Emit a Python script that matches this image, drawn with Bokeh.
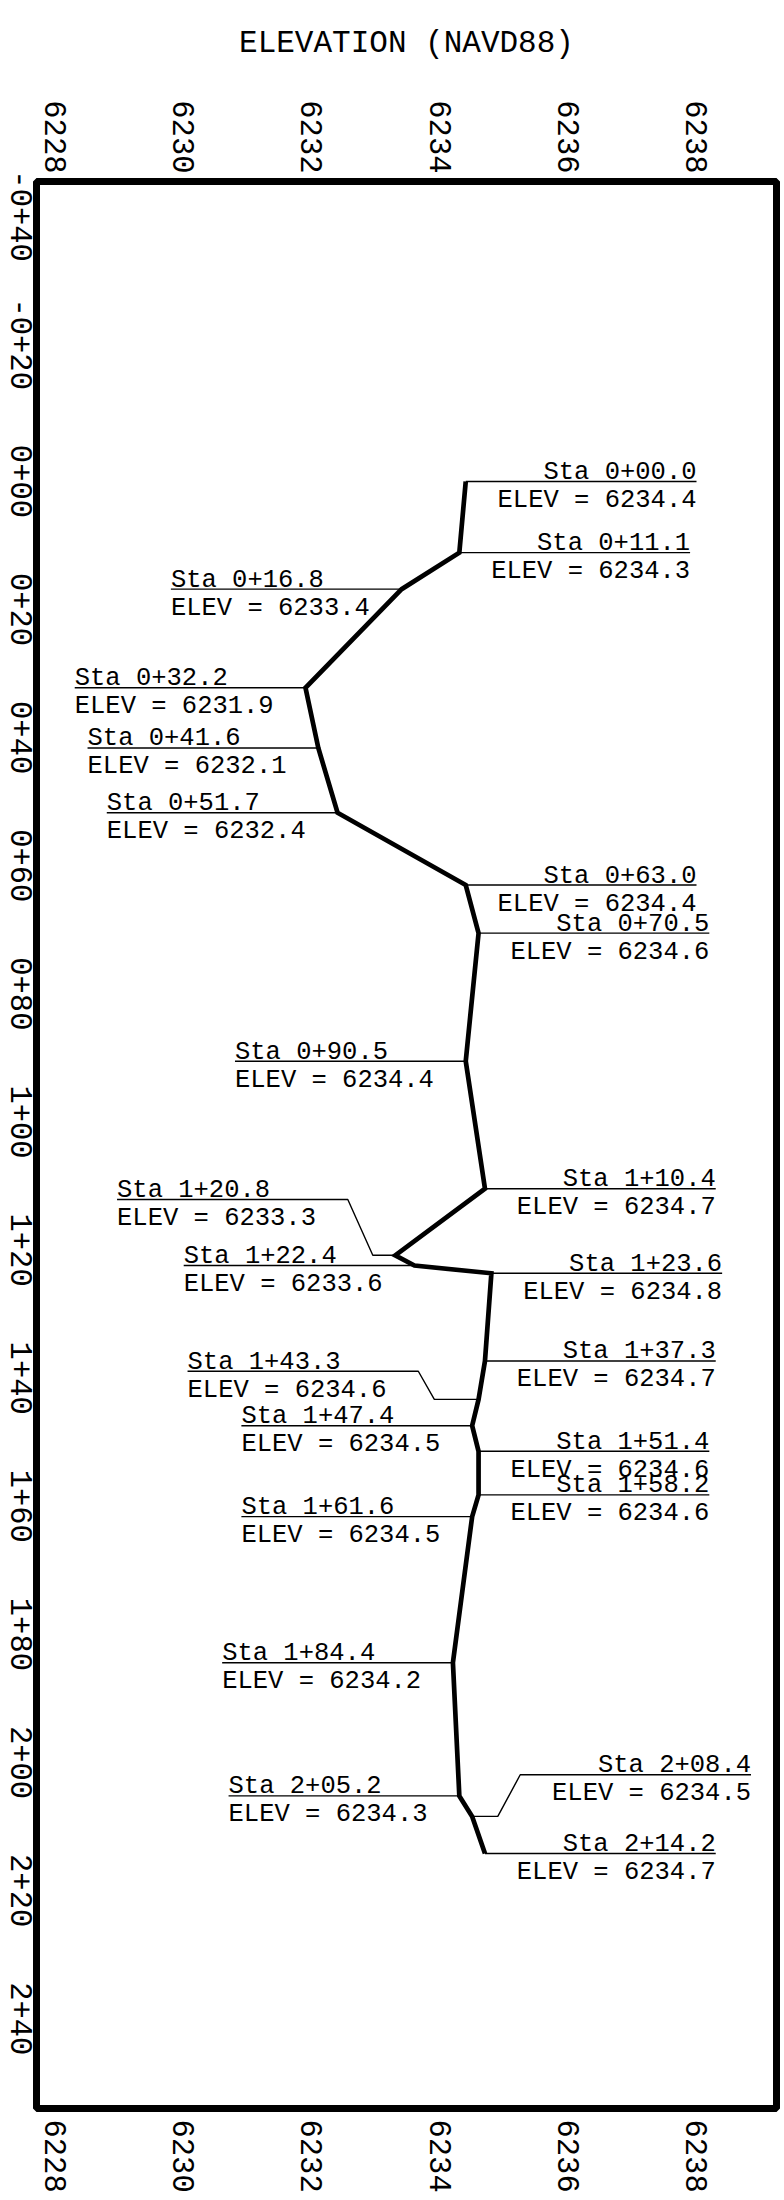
import math
from bokeh.plotting import figure
from bokeh.models import Range1d, LinearAxis, FixedTicker, ColumnDataSource
from bokeh.core.properties import value
from bokeh.embed import file_html
from bokeh.resources import INLINE

# ---------------- data ----------------
station = [0.0, 11.1, 16.8, 32.2, 41.6, 51.7, 63.0, 70.5, 90.5, 110.4, 120.8, 122.4,
           123.6, 137.3, 143.3, 147.4, 151.4, 158.2, 161.6, 184.4, 205.2, 208.4, 214.2]
elev = [6234.4, 6234.3, 6233.4, 6231.9, 6232.1, 6232.4, 6234.4, 6234.6, 6234.4, 6234.7,
        6233.3, 6233.6, 6234.8, 6234.7, 6234.6, 6234.5, 6234.6, 6234.6, 6234.5, 6234.2,
        6234.3, 6234.5, 6234.7]
elev_ticks = [6228, 6230, 6232, 6234, 6236, 6238]
station_ticks = [-40, -20, 0, 20, 40, 60, 80, 100, 120, 140, 160, 180, 200, 220, 240]
station_tick_labels = ["-0+40", "-0+20", "0+00", "0+20", "0+40", "0+60", "0+80", "1+00",
                       "1+20", "1+40", "1+60", "1+80", "2+00", "2+20", "2+40"]
axis_title = "ELEVATION (NAVD88)"

# ---------------- label layout (annotation placement) ----------------
# side: +1 label to the right, -1 to the left
label_side = [1, 1, -1, -1, -1, -1, 1, 1, -1, 1, -1, -1,
              1, 1, -1, -1, 1, 1, -1, -1, -1, 1, 1]
# dog-leg leaders: index -> (short run, diagonal run, rise in station)
dogleg = {10: (0.35, 0.39, 8.7), 14: (0.69, 0.25, 4.4), 21: (0.40, 0.35, 6.5)}
LEADER = 3.6  # leader length in elevation units


def sta_text(s):
    return "Sta %d+%04.1f" % (int(s // 100), s - 100 * int(s // 100))


xs, ys = [], []
lab = {1: dict(x=[], y=[], sta=[], el=[]), -1: dict(x=[], y=[], sta=[], el=[])}
for i, (s, e) in enumerate(zip(station, elev)):
    d = label_side[i]
    a, b, r = dogleg.get(i, (0.0, 0.0, 0.0))
    lx = [e, e + d * a, e + d * (a + b), e + d * (a + b + LEADER)]
    ly = [s, s, s - r, s - r]
    xs.append(lx)
    ys.append(ly)
    g = lab[d]
    g["x"].append(lx[-1])
    g["y"].append(ly[-1])
    g["sta"].append(sta_text(s))
    g["el"].append("ELEV = %.1f" % e)

# ---------------- figure ----------------
Y_START, Y_END = 254.0, -46.84
LABEL_SHIFT = 5.7   # rotated station labels are anchored at their end; centre them on the tick

p = figure(width=804, height=2198,
           x_range=Range1d(6227.7036, 6239.248), y_range=Range1d(Y_START, Y_END),
           output_backend="svg", toolbar_location=None,
           x_axis_location=None, y_axis_location=None,
           min_border_left=60, min_border_right=4, min_border_top=181, min_border_bottom=90,
           styles={"margin-left": "-24px"})
p.extra_y_ranges = {"sta_lab": Range1d(Y_START - LABEL_SHIFT, Y_END - LABEL_SHIFT)}
p.outline_line_color = "black"
p.outline_line_width = 7
p.background_fill_color = "white"
p.border_fill_color = "white"
p.xgrid.visible = False
p.ygrid.visible = False

FONT = "Liberation Mono"


def style_axis(ax, standoff):
    ax.axis_line_color = None
    ax.major_tick_line_color = None
    ax.minor_tick_line_color = None
    ax.major_tick_out = 0
    ax.major_tick_in = 0
    ax.minor_tick_out = 0
    ax.minor_tick_in = 0
    ax.major_label_text_font = FONT
    ax.major_label_text_font_size = "30.5px"
    ax.major_label_text_color = "black"
    ax.major_label_orientation = -math.pi / 2
    ax.major_label_standoff = standoff


top = LinearAxis(ticker=FixedTicker(ticks=elev_ticks), axis_label=axis_title)
style_axis(top, 8)
top.axis_label_text_font = FONT
top.axis_label_text_font_size = "31px"
top.axis_label_text_font_style = "normal"
top.axis_label_text_color = "black"
top.axis_label_standoff = 36
p.add_layout(top, "above")

bottom = LinearAxis(ticker=FixedTicker(ticks=elev_ticks))
style_axis(bottom, 11)
p.add_layout(bottom, "below")

left = LinearAxis(ticker=FixedTicker(ticks=station_ticks), y_range_name="sta_lab",
                  major_label_overrides=dict(zip(station_ticks, station_tick_labels)))
style_axis(left, 15)
p.add_layout(left, "left")

p.multi_line(xs, ys, line_color="black", line_width=1.4)
p.line(elev, station, line_color="black", line_width=4.7, line_join="miter")

for d, align in ((1, "right"), (-1, "left")):
    src = ColumnDataSource(lab[d])
    p.text(x="x", y="y", text="sta", source=src, text_font=value(FONT),
           text_font_size=value("25.5px"), text_align=align, text_baseline="alphabetic",
           y_offset=-9, text_color="black")
    p.text(x="x", y="y", text="el", source=src, text_font=value(FONT),
           text_font_size=value("25.5px"), text_align=align, text_baseline="alphabetic",
           y_offset=19, text_color="black")

open("out.html", "w").write(file_html(p, INLINE))
